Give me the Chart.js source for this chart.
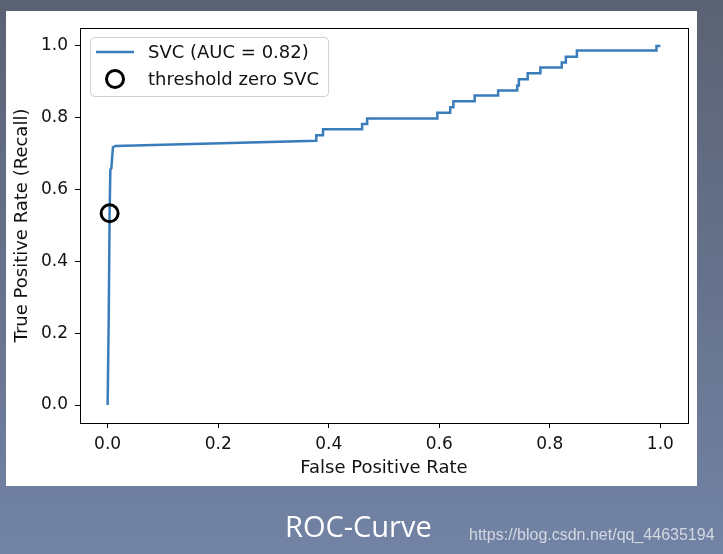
<!DOCTYPE html>
<html><head><meta charset="utf-8">
<script src="https://cdn.jsdelivr.net/npm/chart.js@4.4.0/dist/chart.umd.min.js"></script>
<style>html,body{margin:0;padding:0;background:#5c6475;}canvas{display:block;}</style>
</head><body>
<canvas id="c" width="723" height="554"></canvas>
<script>
// ---- data ----
const fpr = [0, 0.002, 0.0036, 0.0049, 0.0067, 0.0096, 0.014, 0.3775, 0.3775, 0.3897, 0.3897, 0.4604, 0.4604, 0.4695, 0.4695, 0.5965, 0.5965, 0.6198, 0.6198, 0.6256, 0.6256, 0.664, 0.664, 0.7065, 0.7065, 0.741, 0.741, 0.744, 0.744, 0.760, 0.760, 0.783, 0.783, 0.8216, 0.8216, 0.829, 0.829, 0.849, 0.849, 0.993, 0.993, 1.0];
const tpr = [0, 0.25, 0.534, 0.656, 0.659, 0.718, 0.7215, 0.736, 0.751, 0.751, 0.768, 0.768, 0.783, 0.783, 0.798, 0.798, 0.814, 0.814, 0.829, 0.829, 0.846, 0.846, 0.862, 0.862, 0.876, 0.876, 0.890, 0.890, 0.907, 0.907, 0.924, 0.924, 0.940, 0.940, 0.954, 0.954, 0.970, 0.970, 0.987, 0.987, 1.0, 1.0];
const thresholdFpr = [0.0036];
const thresholdTpr = [0.534];
const xTicks = [0, 0.2, 0.4, 0.6, 0.8, 1.0];
const yTicks = [0, 0.2, 0.4, 0.6, 0.8, 1.0];
const seriesLabel = 'SVC (AUC = 0.82)';
const markerLabel = 'threshold zero SVC';
const xTitle = 'False Positive Rate';
const yTitle = 'True Positive Rate (Recall)';
const slideTitle = 'ROC-Curve';
const watermark = 'https://blog.csdn.net/qq_44635194';

const LINE_COLOR = '#3a7cba';
const FONT = 'DejaVu Sans';

const backgroundPlugin = {
  id: 'bg',
  beforeDraw(chart) {
    const ctx = chart.ctx;
    ctx.save();
    const g = ctx.createLinearGradient(0, 0, 0, chart.height);
    g.addColorStop(0, '#5b6273');
    g.addColorStop(0.5, '#66728c');
    g.addColorStop(1, '#7283a5');
    ctx.fillStyle = g;
    ctx.fillRect(0, 0, chart.width, chart.height);
    ctx.fillStyle = '#ffffff';
    ctx.fillRect(6, 11, 691, 475);
    ctx.restore();
  },
  afterDatasetsDraw(chart) {
    const {ctx, chartArea: a} = chart;
    ctx.save();
    ctx.strokeStyle = '#000';
    ctx.lineWidth = 1;
    ctx.strokeRect(Math.round(a.left) + 0.5, Math.round(a.top) + 0.5,
                   Math.round(a.right - a.left), Math.round(a.bottom - a.top));
    ctx.restore();
  },
  afterDraw(chart) {
    const {ctx, chartArea: a} = chart;
    ctx.save();
    // legend
    const ds = chart.data.datasets;
    ctx.font = '18px "' + FONT + '"';
    const bx = a.left + 10, by = a.top + 9;
    const tw = Math.max(ctx.measureText(ds[0].label).width, ctx.measureText(ds[1].label).width);
    const bw = 58 + tw + 9, bh = 59;
    ctx.beginPath();
    ctx.roundRect(bx + 0.5, by + 0.5, bw, bh, 4);
    ctx.fillStyle = 'rgba(255,255,255,0.8)';
    ctx.fill();
    ctx.strokeStyle = '#d0d0d0';
    ctx.lineWidth = 1;
    ctx.stroke();
    const r1 = by + 15, r2 = by + 42;
    ctx.strokeStyle = LINE_COLOR;
    ctx.lineWidth = 2.5;
    ctx.beginPath();
    ctx.moveTo(bx + 6, r1); ctx.lineTo(bx + 44, r1); ctx.stroke();
    ctx.strokeStyle = '#000';
    ctx.lineWidth = 3;
    ctx.beginPath();
    ctx.arc(bx + 25, r2, 8.5, 0, Math.PI * 2); ctx.stroke();
    ctx.fillStyle = '#111';
    ctx.textBaseline = 'middle';
    ctx.textAlign = 'left';
    ctx.fillText(ds[0].label, bx + 58, r1 + 1);
    ctx.fillText(ds[1].label, bx + 58, r2 + 1);
    // slide title and watermark
    ctx.fillStyle = '#ffffff';
    ctx.font = '29px "Open Sans"';
    ctx.textAlign = 'left';
    ctx.textBaseline = 'alphabetic';
    ctx.fillText(slideTitle, 285, 537);
    ctx.fillStyle = '#d3d8e2';
    ctx.font = '16px "Liberation Sans"';
    ctx.fillText(watermark, 469, 540);
    ctx.restore();
  }
};

const tickFont = {family: FONT, size: 17};
const titleFont = {family: FONT, size: 18};

new Chart(document.getElementById('c'), {
  type: 'line',
  data: {
    datasets: [
      {
        label: seriesLabel,
        data: fpr.map((x, i) => ({x: x, y: tpr[i]})),
        borderColor: LINE_COLOR,
        borderWidth: 2.5,
        pointRadius: 0,
        tension: 0,
        fill: false,
        order: 2
      },
      {
        label: markerLabel,
        data: thresholdFpr.map((x, i) => ({x: x, y: thresholdTpr[i]})),
        showLine: false,
        pointRadius: 8.5,
        pointBorderWidth: 3,
        pointBorderColor: '#000',
        pointBackgroundColor: 'rgba(0,0,0,0)',
        borderColor: '#000',
        order: 1
      }
    ]
  },
  options: {
    responsive: false,
    animation: false,
    devicePixelRatio: 1,
    layout: {padding: {left: 7, right: 35, top: 28, bottom: 68}},
    plugins: {legend: {display: false}, tooltip: {enabled: false}},
    scales: {
      x: {
        type: 'linear', min: -0.05, max: 1.05,
        afterBuildTicks: s => { s.ticks = xTicks.map(v => ({value: v})); },
        afterFit: s => { s.height = 63; },
        ticks: {font: tickFont, color: '#111', padding: 6, maxRotation: 0,
                callback: v => v.toFixed(1)},
        grid: {display: true, drawOnChartArea: false, drawTicks: true, tickLength: 5,
               color: '#000', tickColor: '#000', lineWidth: 1},
        border: {display: false},
        title: {display: true, text: xTitle, font: titleFont, color: '#111',
                padding: {top: 0, bottom: 7}}
      },
      y: {
        type: 'linear', min: -0.05, max: 1.05,
        afterBuildTicks: s => { s.ticks = yTicks.map(v => ({value: v})); },
        afterFit: s => { s.width = 73; },
        ticks: {font: tickFont, color: '#111', padding: 7,
                callback: v => v.toFixed(1)},
        grid: {display: true, drawOnChartArea: false, drawTicks: true, tickLength: 5,
               color: '#000', tickColor: '#000', lineWidth: 1},
        border: {display: false},
        title: {display: true, text: yTitle, font: titleFont, color: '#111',
                padding: {top: 5, bottom: 0}}
      }
    }
  },
  plugins: [backgroundPlugin]
});
</script>
</body></html>
